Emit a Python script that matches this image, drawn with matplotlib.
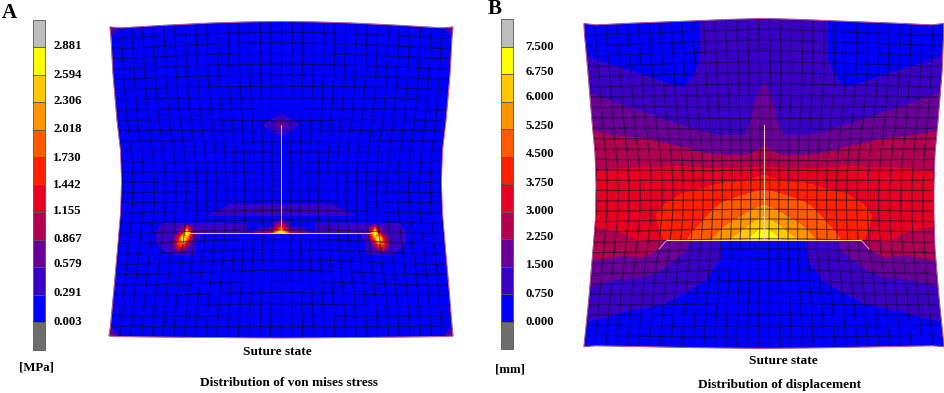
#!/usr/bin/env python3
"""Von Mises stress and displacement contours on the sutured plate (panels A, B)."""

import numpy as np
import matplotlib
matplotlib.use('Agg')
import matplotlib.pyplot as plt
from matplotlib.collections import LineCollection
from matplotlib.patches import Polygon

plt.rcParams['font.family'] = ['Liberation Serif', 'DejaVu Serif']
plt.rcParams['font.weight'] = 'bold'

# legend values, top to bottom
STRESS_LABELS = ['2.881', '2.594', '2.306', '2.018', '1.730', '1.442',
                 '1.155', '0.867', '0.579', '0.291', '0.003']
DISP_LABELS = ['7.500', '6.750', '6.000', '5.250', '4.500', '3.750',
               '3.000', '2.250', '1.500', '0.750', '0.000']
STRESS_LEVELS = [float(s) for s in STRESS_LABELS[::-1]]
DISP_LEVELS = [float(s) for s in DISP_LABELS[::-1]]

# band colours, low to high
BAND_COLORS = ['#0000ff', '#3a00c4', '#6a0098', '#b0004f', '#e60022',
               '#ff2000', '#ff5a00', '#ff9400', '#ffc800', '#ffff00']
OVER_COLOR = '#bdbdbd'
UNDER_COLOR = '#6e6e6e'

# --- panel A: stress patches, distance from wound centre (columns) and y (rows)
DOME_DX = [0, 20, 30, 50, 70, 85, 100, 115, 125]
DOME_Y = [198, 205, 215, 225, 233]
DOME_Z = [[0.0, 0.0, 0.0, 0.0, 0.0, 0.0, 0.0, 0.0, 0.0],
          [0.32, 0.32, 0.32, 0.31, 0.1, 0.0, 0.0, 0.0, 0.0],
          [0.40, 0.40, 0.40, 0.38, 0.31, 0.1, 0.0, 0.0, 0.0],
          [0.50, 0.45, 0.40, 0.40, 0.40, 0.33, 0.0, 0.0, 0.0],
          [0.60, 0.50, 0.45, 0.40, 0.40, 0.35, 0.0, 0.0, 0.0]]

CENTRE_DX = [0, 4, 8, 12, 16, 20, 24, 28, 34]
CENTRE_Y = [218, 222, 226, 230, 233]
CENTRE_Z = [[0.2, 0.2, 0.2, 0.2, 0.2, 0.2, 0.2, 0.2, 0.2],
            [0.7, 0.45, 0.2, 0.2, 0.2, 0.2, 0.2, 0.2, 0.2],
            [1.3, 0.8, 0.45, 0.2, 0.2, 0.2, 0.2, 0.2, 0.2],
            [2.2, 1.4, 0.8, 0.65, 0.4, 0.65, 0.3, 0.2, 0.2],
            [3.0, 2.3, 1.5, 0.95, 0.75, 0.65, 0.6, 0.58, 0.2]]

END_DX = [80, 86, 90, 94, 98, 102, 106, 112, 118, 124, 130]
END_Y = [216, 224, 233, 238, 243, 248, 253, 258]
END_Z = [[0.0, 0.0, 0.0, 0.0, 0.0, 0.0, 0.0, 0.0, 0.0, 0.0, 0.0],
         [0.33, 0.33, 0.33, 0.33, 0.33, 0.33, 0.33, 0.33, 0.31, 0.15, 0.0],
         [0.33, 0.55, 1.4, 2.9, 1.2, 0.75, 0.5, 0.35, 0.33, 0.31, 0.0],
         [0.1, 0.4, 1.0, 2.0, 2.9, 1.3, 0.7, 0.4, 0.33, 0.32, 0.0],
         [0.1, 0.33, 0.6, 1.1, 2.2, 1.8, 0.9, 0.45, 0.33, 0.30, 0.0],
         [0.0, 0.31, 0.4, 0.6, 1.0, 1.2, 0.65, 0.38, 0.32, 0.15, 0.0],
         [0.0, 0.30, 0.33, 0.35, 0.4, 0.4, 0.35, 0.31, 0.1, 0.0, 0.0],
         [0.0, 0.1, 0.1, 0.1, 0.1, 0.1, 0.1, 0.0, 0.0, 0.0, 0.0]]

TIP_DX = [0, 30]
TIP_Y = [106, 125, 144]
TIP_Z = [[0.0, 0.0],
         [0.7, 0.0],
         [0.0, 0.0]]

CORNER_Z = [[0.95, 0.0],
            [0.0, 0.0]]

# --- panel B: displacement, columns are distance from the centre line
DISP_DX = [0, 10, 20, 40, 60, 80, 100, 120, 140, 160, 185]
UPPER_Y = [15, 40, 60, 75, 90, 105, 120, 135, 145, 155, 165, 175, 185, 195,
           205, 215, 225, 232, 240]
UPPER_COLS = [
    [1.0, 1.1, 1.2, 1.4, 1.6, 1.75, 1.85, 2.05, 2.2, 2.55, 2.9, 3.75, 4.3, 4.8, 5.25, 5.9, 6.5, 7.1, 7.5],
    [1.0, 1.05, 1.1, 1.2, 1.3, 1.5, 1.55, 1.7, 2.0, 2.35, 2.85, 3.55, 4.1, 4.65, 5.05, 5.55, 6.15, 6.6, 7.05],
    [1.0, 1.0, 1.05, 1.1, 1.15, 1.25, 1.35, 1.47, 1.8, 2.2, 2.8, 3.4, 3.95, 4.5, 4.9, 5.25, 5.8, 6.1, 6.6],
    [0.95, 0.95, 1.0, 1.05, 1.1, 1.2, 1.3, 1.47, 1.8, 2.25, 2.85, 3.35, 3.85, 4.25, 4.6, 4.9, 5.15, 5.4, 5.7],
    [0.8, 0.8, 0.8, 0.85, 0.9, 1.05, 1.25, 1.55, 1.95, 2.3, 2.85, 3.3, 3.65, 3.95, 4.2, 4.4, 4.6, 4.75, 4.95],
    [0.5, 0.5, 0.55, 0.65, 0.77, 1.05, 1.35, 1.75, 2.15, 2.55, 2.95, 3.25, 3.5, 3.8, 3.95, 4.1, 4.2, 4.3, 4.4],
    [0.4, 0.4, 0.5, 0.65, 0.85, 1.1, 1.5, 1.95, 2.3, 2.6, 2.95, 3.2, 3.4, 3.6, 3.75, 3.9, 3.9, 3.85, 3.75],
    [0.35, 0.4, 0.55, 0.75, 1.0, 1.3, 1.7, 2.15, 2.45, 2.7, 2.95, 3.15, 3.3, 3.4, 3.5, 3.5, 3.35, 3.2, 3.05],
    [0.3, 0.4, 0.6, 0.85, 1.15, 1.47, 1.85, 2.2, 2.5, 2.7, 2.95, 3.1, 3.25, 3.3, 3.3, 3.25, 3.1, 3.02, 2.85],
    [0.35, 0.45, 0.7, 0.95, 1.3, 1.65, 2.0, 2.27, 2.5, 2.7, 2.9, 3.08, 3.2, 3.25, 3.2, 3.15, 3.05, 2.9, 2.75],
    [0.4, 0.55, 0.85, 1.1, 1.5, 1.8, 2.1, 2.35, 2.5, 2.7, 2.85, 3.0, 3.15, 3.2, 3.15, 3.1, 3.0, 2.85, 2.7],
]
LOWER_Y = [240, 250, 260, 270, 280, 290, 300, 310, 320, 335, 350]
LOWER_COLS = [
    [0.3, 0.3, 0.3, 0.3, 0.3, 0.3, 0.3, 0.3, 0.3, 0.2, 0.1],
    [0.3, 0.3, 0.3, 0.3, 0.3, 0.3, 0.3, 0.3, 0.3, 0.2, 0.1],
    [0.4, 0.4, 0.4, 0.4, 0.35, 0.3, 0.3, 0.3, 0.3, 0.2, 0.1],
    [0.7, 0.7, 0.7, 0.6, 0.5, 0.4, 0.35, 0.3, 0.3, 0.25, 0.15],
    [1.1, 1.05, 0.95, 0.85, 0.77, 0.6, 0.5, 0.4, 0.35, 0.3, 0.2],
    [1.65, 1.55, 1.35, 1.15, 0.95, 0.8, 0.65, 0.5, 0.4, 0.3, 0.2],
    [2.25, 2.0, 1.65, 1.45, 1.2, 1.0, 0.8, 0.65, 0.5, 0.35, 0.2],
    [3.05, 2.6, 2.1, 1.7, 1.4, 1.15, 0.95, 0.7, 0.5, 0.35, 0.2],
    [2.85, 2.45, 2.05, 1.75, 1.45, 1.2, 1.0, 0.78, 0.6, 0.4, 0.2],
    [2.75, 2.5, 2.2, 1.85, 1.55, 1.3, 1.1, 0.95, 0.7, 0.45, 0.25],
    [2.7, 2.5, 2.28, 1.9, 1.65, 1.5, 1.2, 1.0, 0.8, 0.5, 0.3],
]

# plate outline profiles: stations along an edge and the pixel position there
STATIONS = [0.0, 0.03, 0.15, 0.3, 0.4, 0.5, 0.6, 0.7, 0.85, 0.97, 1.0]
A_LEFT = [110, 111, 113, 117, 120.5, 121.5, 120.5, 118, 114, 110.5, 109]
A_RIGHT = [453, 452, 450, 446, 442.5, 441.5, 442.5, 445, 449, 452, 453]
A_TOP = [27, 28, 25.5, 23, 22, 21.5, 22, 23, 25.5, 28, 27]
A_BOTTOM = [336, 336.5, 337, 337.5, 337.8, 338, 337.8, 337.5, 337, 336.5, 336]
B_LEFT = [584, 584.5, 588, 592, 595, 596, 595.5, 593, 589, 585, 584]
B_RIGHT = [943.5, 943.5, 942, 938, 935, 934, 934, 935, 939, 943, 944]
B_TOP = [23.5, 25, 23, 21, 19.5, 18.5, 19.5, 21, 23, 25, 23.5]
B_BOTTOM = [346.7, 345.7, 346.5, 347.5, 348, 348.3, 348, 347.5, 346.5, 345.7, 346.7]

A_CX = 281
B_CX = 764


def plate_mesh(left, right, top, bottom, ncols, nrows, cx):
    """Warped quad mesh that follows the plate edges, finer around the wound."""
    u = np.linspace(0, 1, ncols + 1)
    v = np.linspace(0, 1, nrows + 1)
    xl = np.interp(v, STATIONS, left)
    xr = np.interp(v, STATIONS, right)
    yt = np.interp(u, STATIONS, top)
    yb = np.interp(u, STATIONS, bottom)
    uu, vv = np.meshgrid(u, v)
    X = xl[:, None] * (1 - uu) + xr[:, None] * uu
    Y = yt[None, :] * (1 - vv) + yb[None, :] * vv
    # pull the nodes in towards the wound
    cy = 200
    r = np.hypot((X - cx) / 125, (Y - cy) / 100)
    f = 1 - 0.08 * np.exp(-r ** 4)
    return cx + (X - cx) * f, cy + (Y - cy) * f


def plate_outline(left, right, top, bottom):
    u = np.linspace(0, 1, 121)
    yt = np.interp(u, STATIONS, top)
    yb = np.interp(u, STATIONS, bottom)
    xl = np.interp(u, STATIONS, left)
    xr = np.interp(u, STATIONS, right)
    x0, x1 = left[0], right[0]
    x2, x3 = right[-1], left[-1]
    return np.r_[np.c_[x0 + (x1 - x0) * u, yt],
                 np.c_[xr, yt[-1] + (yb[-1] - yt[-1]) * u],
                 np.c_[(x2 + (x3 - x2) * u), yb[::-1]],
                 np.c_[xl[::-1], yb[0] + (yt[0] - yb[0]) * u]]


def mirror(cx, dx, z):
    """Make a half table symmetric around the vertical line x = cx."""
    dx = np.asarray(dx, float)
    z = np.asarray(z, float)
    if dx[0] == 0:
        xs = np.r_[cx - dx[:0:-1], cx + dx]
        zs = np.c_[z[:, :0:-1], z]
    else:
        xs = np.r_[cx - dx[::-1], cx + dx]
        zs = np.c_[z[:, ::-1], z]
    return xs, zs


def fill_bands(ax, xs, ys, zs, levels, clip):
    cs = ax.contourf(xs, ys, zs, levels=levels, colors=BAND_COLORS, zorder=2)
    cs.set_clip_path(clip)


def draw_mesh(ax, X, Y, outline):
    rows = [np.c_[x, y] for x, y in zip(X, Y)]
    cols = [np.c_[x, y] for x, y in zip(X.T, Y.T)]
    ax.add_collection(LineCollection(rows + cols, colors='#0a0a30', linewidths=0.85,
                                     alpha=0.6, zorder=3, antialiaseds=True))
    ax.add_patch(Polygon(outline, closed=True, fill=False, edgecolor='#d860a8',
                         lw=0.6, zorder=4))


def draw_legend(ax, x0, x1, y_top, y_bottom, labels, label_x, label_y):
    n = len(BAND_COLORS) + 2
    edges = np.linspace(y_top, y_bottom, n + 1)
    colors = [OVER_COLOR] + BAND_COLORS[::-1] + [UNDER_COLOR]
    ax.bar(np.full(n, (x0 + x1) / 2), np.diff(edges), bottom=edges[:-1], width=x1 - x0,
           color=colors, edgecolor='#555555', linewidth=0.6, zorder=2)
    for text, y in zip(labels, label_y):
        ax.text(label_x, y, text, fontsize=9.2, ha='left', va='center')


fig = plt.figure(figsize=(9.45, 3.93), dpi=100)
ax = fig.add_axes([0, 0, 1, 1])
ax.set_xlim(0, 945)
ax.set_ylim(393, 0)
ax.axis('off')

# Panel A
X, Y = plate_mesh(A_LEFT, A_RIGHT, A_TOP, A_BOTTOM, 32, 30, A_CX)
outline = plate_outline(A_LEFT, A_RIGHT, A_TOP, A_BOTTOM)
plate = Polygon(outline, closed=True, facecolor=BAND_COLORS[0], edgecolor='none', zorder=1)
ax.add_patch(plate)
for dx, ys, z in [(DOME_DX, DOME_Y, DOME_Z), (END_DX, END_Y, END_Z),
                  (CENTRE_DX, CENTRE_Y, CENTRE_Z), (TIP_DX, TIP_Y, TIP_Z)]:
    xs, zs = mirror(A_CX, dx, z)
    fill_bands(ax, xs, ys, zs, STRESS_LEVELS, plate)
for x0, sx in [(A_LEFT[0], 1), (A_RIGHT[0], -1)]:
    for y0, sy in [(A_TOP[0], 1), (A_BOTTOM[0], -1)]:
        cx = np.array([x0, x0 + sx * 13])
        cy = np.array([y0, y0 + sy * 13])
        fill_bands(ax, cx[::sx], cy[::sy], np.array(CORNER_Z)[::sy, ::sx], STRESS_LEVELS, plate)
draw_mesh(ax, X, Y, outline)
ax.plot([A_CX, A_CX], [125, 233], color='#e8b8d8', lw=0.7, zorder=5)
ax.plot([A_CX - 94, A_CX + 94], [233, 233], color='#ffc890', lw=0.8, zorder=5)

draw_legend(ax, 32.5, 45, 19.5, 350, STRESS_LABELS, 53,
            [46, 75, 101, 129, 158, 185, 211, 239, 264, 293, 322])
ax.text(2, 13, 'A', fontsize=15, ha='left', va='center')
ax.text(37, 367, '[MPa]', fontsize=9.2, ha='center', va='center')
ax.text(277.5, 352, 'Suture state', fontsize=9.6, ha='center', va='center')
ax.text(288.5, 383, 'Distribution of von mises stress', fontsize=9.6, ha='center', va='center')

# Panel B
X, Y = plate_mesh(B_LEFT, B_RIGHT, B_TOP, B_BOTTOM, 33, 31, B_CX)
outline = plate_outline(B_LEFT, B_RIGHT, B_TOP, B_BOTTOM)
plate = Polygon(outline, closed=True, facecolor=BAND_COLORS[0], edgecolor='none', zorder=1)
ax.add_patch(plate)
for ys, cols in [(UPPER_Y, UPPER_COLS), (LOWER_Y, LOWER_COLS)]:
    xs, zs = mirror(B_CX, DISP_DX, np.array(cols).T)
    fill_bands(ax, xs, ys, zs, DISP_LEVELS, plate)
draw_mesh(ax, X, Y, outline)
ax.plot([B_CX, B_CX], [125, 240], color='#f0d0b0', lw=0.7, zorder=5)
ax.plot([B_CX - 97, B_CX + 97], [240, 240], color='#ffd890', lw=0.8, zorder=5)
for sign in (-1, 1):
    ax.plot([B_CX + sign * 97, B_CX + sign * 105], [240, 249], color='#f0a0a0', lw=0.7, zorder=5)

draw_legend(ax, 501, 513.3, 19, 349, DISP_LABELS, 525.5,
            [47, 72, 97, 126, 154, 183, 211, 237, 265, 294, 322])
ax.text(488, 9, 'B', fontsize=15, ha='left', va='center')
ax.text(510, 369, '[mm]', fontsize=9.2, ha='center', va='center')
ax.text(783.5, 361, 'Suture state', fontsize=9.6, ha='center', va='center')
ax.text(780, 385, 'Distribution of displacement', fontsize=9.6, ha='center', va='center')

fig.savefig('out.png', dpi=100)
